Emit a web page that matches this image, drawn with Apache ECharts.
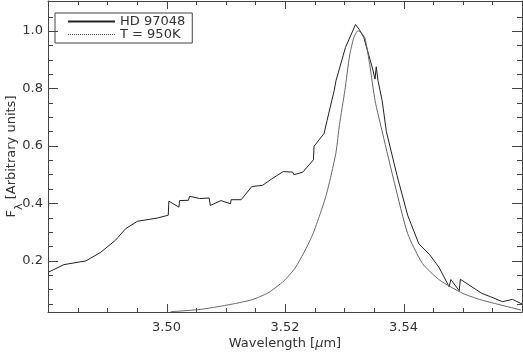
<!DOCTYPE html>
<html>
<head>
<meta charset="utf-8">
<script src="https://cdn.jsdelivr.net/npm/echarts@6/dist/echarts.min.js"></script>
<style>
html,body{margin:0;padding:0;background:#fff;}
#chart{width:523px;height:352px;}
</style>
</head>
<body>
<div id="chart"></div>
<script>
// ---- Data ----
var seriesNames = ['HD 97048', 'T = 950K'];

// HD 97048 (observed spectrum): wavelength [um], flux
var obsX = [3.4800,3.4827,3.4864,3.4889,3.4914,3.4931,3.4951,3.4984,3.5003,3.5004,3.5021,3.5022,3.5037,3.5039,3.5056,3.5072,3.5074,3.5092,3.5108,3.5109,3.5126,3.5144,3.5162,3.5178,3.5197,3.5213,3.5215,3.5230,3.5248,3.5249,3.5266,3.5271,3.5283,3.5286,3.5298,3.5302,3.5319,3.5325,3.5333,3.5348,3.5352,3.5354,3.5357,3.5364,3.5371,3.5389,3.5407,3.5426,3.5444,3.5460,3.5477,3.5480,3.5494,3.5496,3.5532,3.5547,3.5567,3.5584,3.5600];
var obsY = [0.159,0.186,0.199,0.229,0.271,0.311,0.337,0.348,0.358,0.407,0.386,0.409,0.410,0.424,0.416,0.418,0.392,0.409,0.398,0.412,0.412,0.458,0.462,0.485,0.510,0.508,0.499,0.508,0.551,0.598,0.643,0.688,0.792,0.826,0.913,0.942,1.022,1.006,0.977,0.867,0.832,0.875,0.826,0.757,0.650,0.497,0.358,0.258,0.221,0.176,0.109,0.134,0.095,0.135,0.086,0.074,0.057,0.065,0.049];

// T = 950K model
var modX = [3.5007,3.5057,3.5102,3.5143,3.5171,3.5198,3.5217,3.5234,3.5247,3.5259,3.5269,3.5277,3.5286,3.5292,3.5301,3.5309,3.5316,3.5323,3.5328,3.5335,3.5343,3.5352,3.5365,3.5385,3.5407,3.5432,3.5461,3.5500,3.5528,3.5561,3.5598];
var modY = [0.022,0.030,0.045,0.063,0.087,0.129,0.174,0.236,0.292,0.361,0.424,0.490,0.576,0.674,0.792,0.913,0.976,1.000,0.995,0.975,0.882,0.757,0.641,0.468,0.294,0.190,0.132,0.086,0.065,0.047,0.028];

// Axis ticks and labels
var xLabelTicks = [3.50,3.52,3.54];
var xMajorTicks = [3.50,3.52,3.54];
var xMinorTicks = [3.485,3.490,3.495,3.505,3.510,3.515,3.525,3.530,3.535,3.545,3.550,3.555];
var yMajorTicks = [0.2,0.4,0.6,0.8,1.0];
var yMinorTicks = [0.05,0.10,0.15,0.25,0.30,0.35,0.45,0.50,0.55,0.65,0.70,0.75,0.85,0.90,0.95,1.05];

var xMin = 3.48, xMax = 3.56, yMin = 0.021, yMax = 1.104;

function pairs(xs, ys){ return xs.map(function(x,i){ return [x, ys[i]]; }); }

var FONT = 'DejaVu Sans';
var TXT = '#333';
var AX = '#444';

function crisp(v){ return Math.round(v) + 0.5; }

// tick marks on all four sides, placed through the axes' scales
function tickSeries(values, isX, len){
  return {
    type:'custom', silent:true, clip:false, z:5,
    xAxisIndex:0, yAxisIndex:0,
    data: values.map(function(v){ return isX ? [v, yMin] : [xMin, v]; }),
    encode:{x:0, y:1},
    renderItem:function(params, api){
      var cs = params.coordSys;
      var p = api.coord([api.value(0), api.value(1)]);
      var st = {stroke:AX, lineWidth:1};
      if (isX) {
        var x = crisp(p[0]), b = cs.y + cs.height, t = cs.y;
        return {type:'group', children:[
          {type:'line', shape:{x1:x, y1:b, x2:x, y2:b-len}, style:st},
          {type:'line', shape:{x1:x, y1:t, x2:x, y2:t+len}, style:st}
        ]};
      } else {
        var y = crisp(p[1]), l = cs.x, r = cs.x + cs.width;
        return {type:'group', children:[
          {type:'line', shape:{x1:l, y1:y, x2:l+len, y2:y}, style:st},
          {type:'line', shape:{x1:r, y1:y, x2:r-len, y2:y}, style:st}
        ]};
      }
    }
  };
}

var axisLineStyle = {show:true, onZero:false, lineStyle:{color:AX, width:1}};

var chart = echarts.init(document.getElementById('chart'), null, {renderer:'canvas'});
chart.setOption({
  animation:false,
  backgroundColor:'#fff',
  grid:{left:48, right:1, top:1, bottom:40, containLabel:false, outerBoundsMode:'none'},
  xAxis:[
    {type:'value', position:'bottom', min:xMin, max:xMax,
     axisLine:axisLineStyle, axisTick:{show:false}, splitLine:{show:false},
     axisLabel:{show:true, customValues:xLabelTicks, margin:9, color:TXT, fontFamily:FONT, fontSize:13,
       formatter:function(v){ return v.toFixed(2); }},
     name:'Wavelength [{mu|μ}m]', nameLocation:'middle', nameGap:25, nameMoveOverlap:false,
     nameTextStyle:{color:TXT, fontFamily:FONT, fontSize:13,
       rich:{mu:{fontFamily:FONT, fontStyle:'italic', fontSize:13, color:TXT}}}},
    {type:'value', position:'top', min:xMin, max:xMax,
     axisLine:axisLineStyle, axisTick:{show:false}, axisLabel:{show:false}, splitLine:{show:false}}
  ],
  yAxis:[
    {type:'value', position:'left', min:yMin, max:yMax,
     axisLine:axisLineStyle, axisTick:{show:false}, splitLine:{show:false},
     axisLabel:{show:true, customValues:yMajorTicks, margin:5, color:TXT, fontFamily:FONT, fontSize:13,
       formatter:function(v){ return v.toFixed(1); }},
     name:'{f|F}{sub|λ}{f| [Arbitrary units]}', nameLocation:'middle', nameGap:23, nameRotate:90,
     nameMoveOverlap:false,
     nameTextStyle:{color:TXT, fontFamily:FONT, fontSize:13, lineHeight:20,
       rich:{f:{fontFamily:FONT, fontSize:13, color:TXT, verticalAlign:'top', lineHeight:20},
             sub:{fontFamily:FONT, fontSize:11, color:TXT, verticalAlign:'bottom', lineHeight:20}}}},
    {type:'value', position:'right', min:yMin, max:yMax,
     axisLine:axisLineStyle, axisTick:{show:false}, axisLabel:{show:false}, splitLine:{show:false}}
  ],
  legend:{
    orient:'vertical', left:55, top:13,
    padding:[2,7,2,12], itemWidth:47, itemHeight:13, itemGap:0,
    borderColor:AX, borderWidth:1, backgroundColor:'#fff',
    itemStyle:{opacity:0},
    textStyle:{color:TXT, fontFamily:FONT, fontSize:13, lineHeight:13},
    data:[
      {name:seriesNames[0]},
      {name:seriesNames[1], lineStyle:{type:[1,1], width:1, color:'#555'}}
    ]
  },
  series:[
    {name:seriesNames[0], type:'line', data:pairs(obsX, obsY), symbol:'none', showSymbol:false,
     xAxisIndex:0, yAxisIndex:0, clip:true,
     lineStyle:{color:'#222', width:1}, itemStyle:{color:'#222'}},
    {name:seriesNames[1], type:'line', data:pairs(modX, modY), symbol:'none', showSymbol:false,
     xAxisIndex:0, yAxisIndex:0, clip:true, smooth:0.2,
     lineStyle:{color:'#666', width:1}, itemStyle:{color:'#666'}},
    tickSeries(xMajorTicks, true, 8),
    tickSeries(xMinorTicks, true, 4),
    tickSeries(yMajorTicks, false, 10),
    tickSeries(yMinorTicks, false, 5)
  ]
});
</script>
</body>
</html>
